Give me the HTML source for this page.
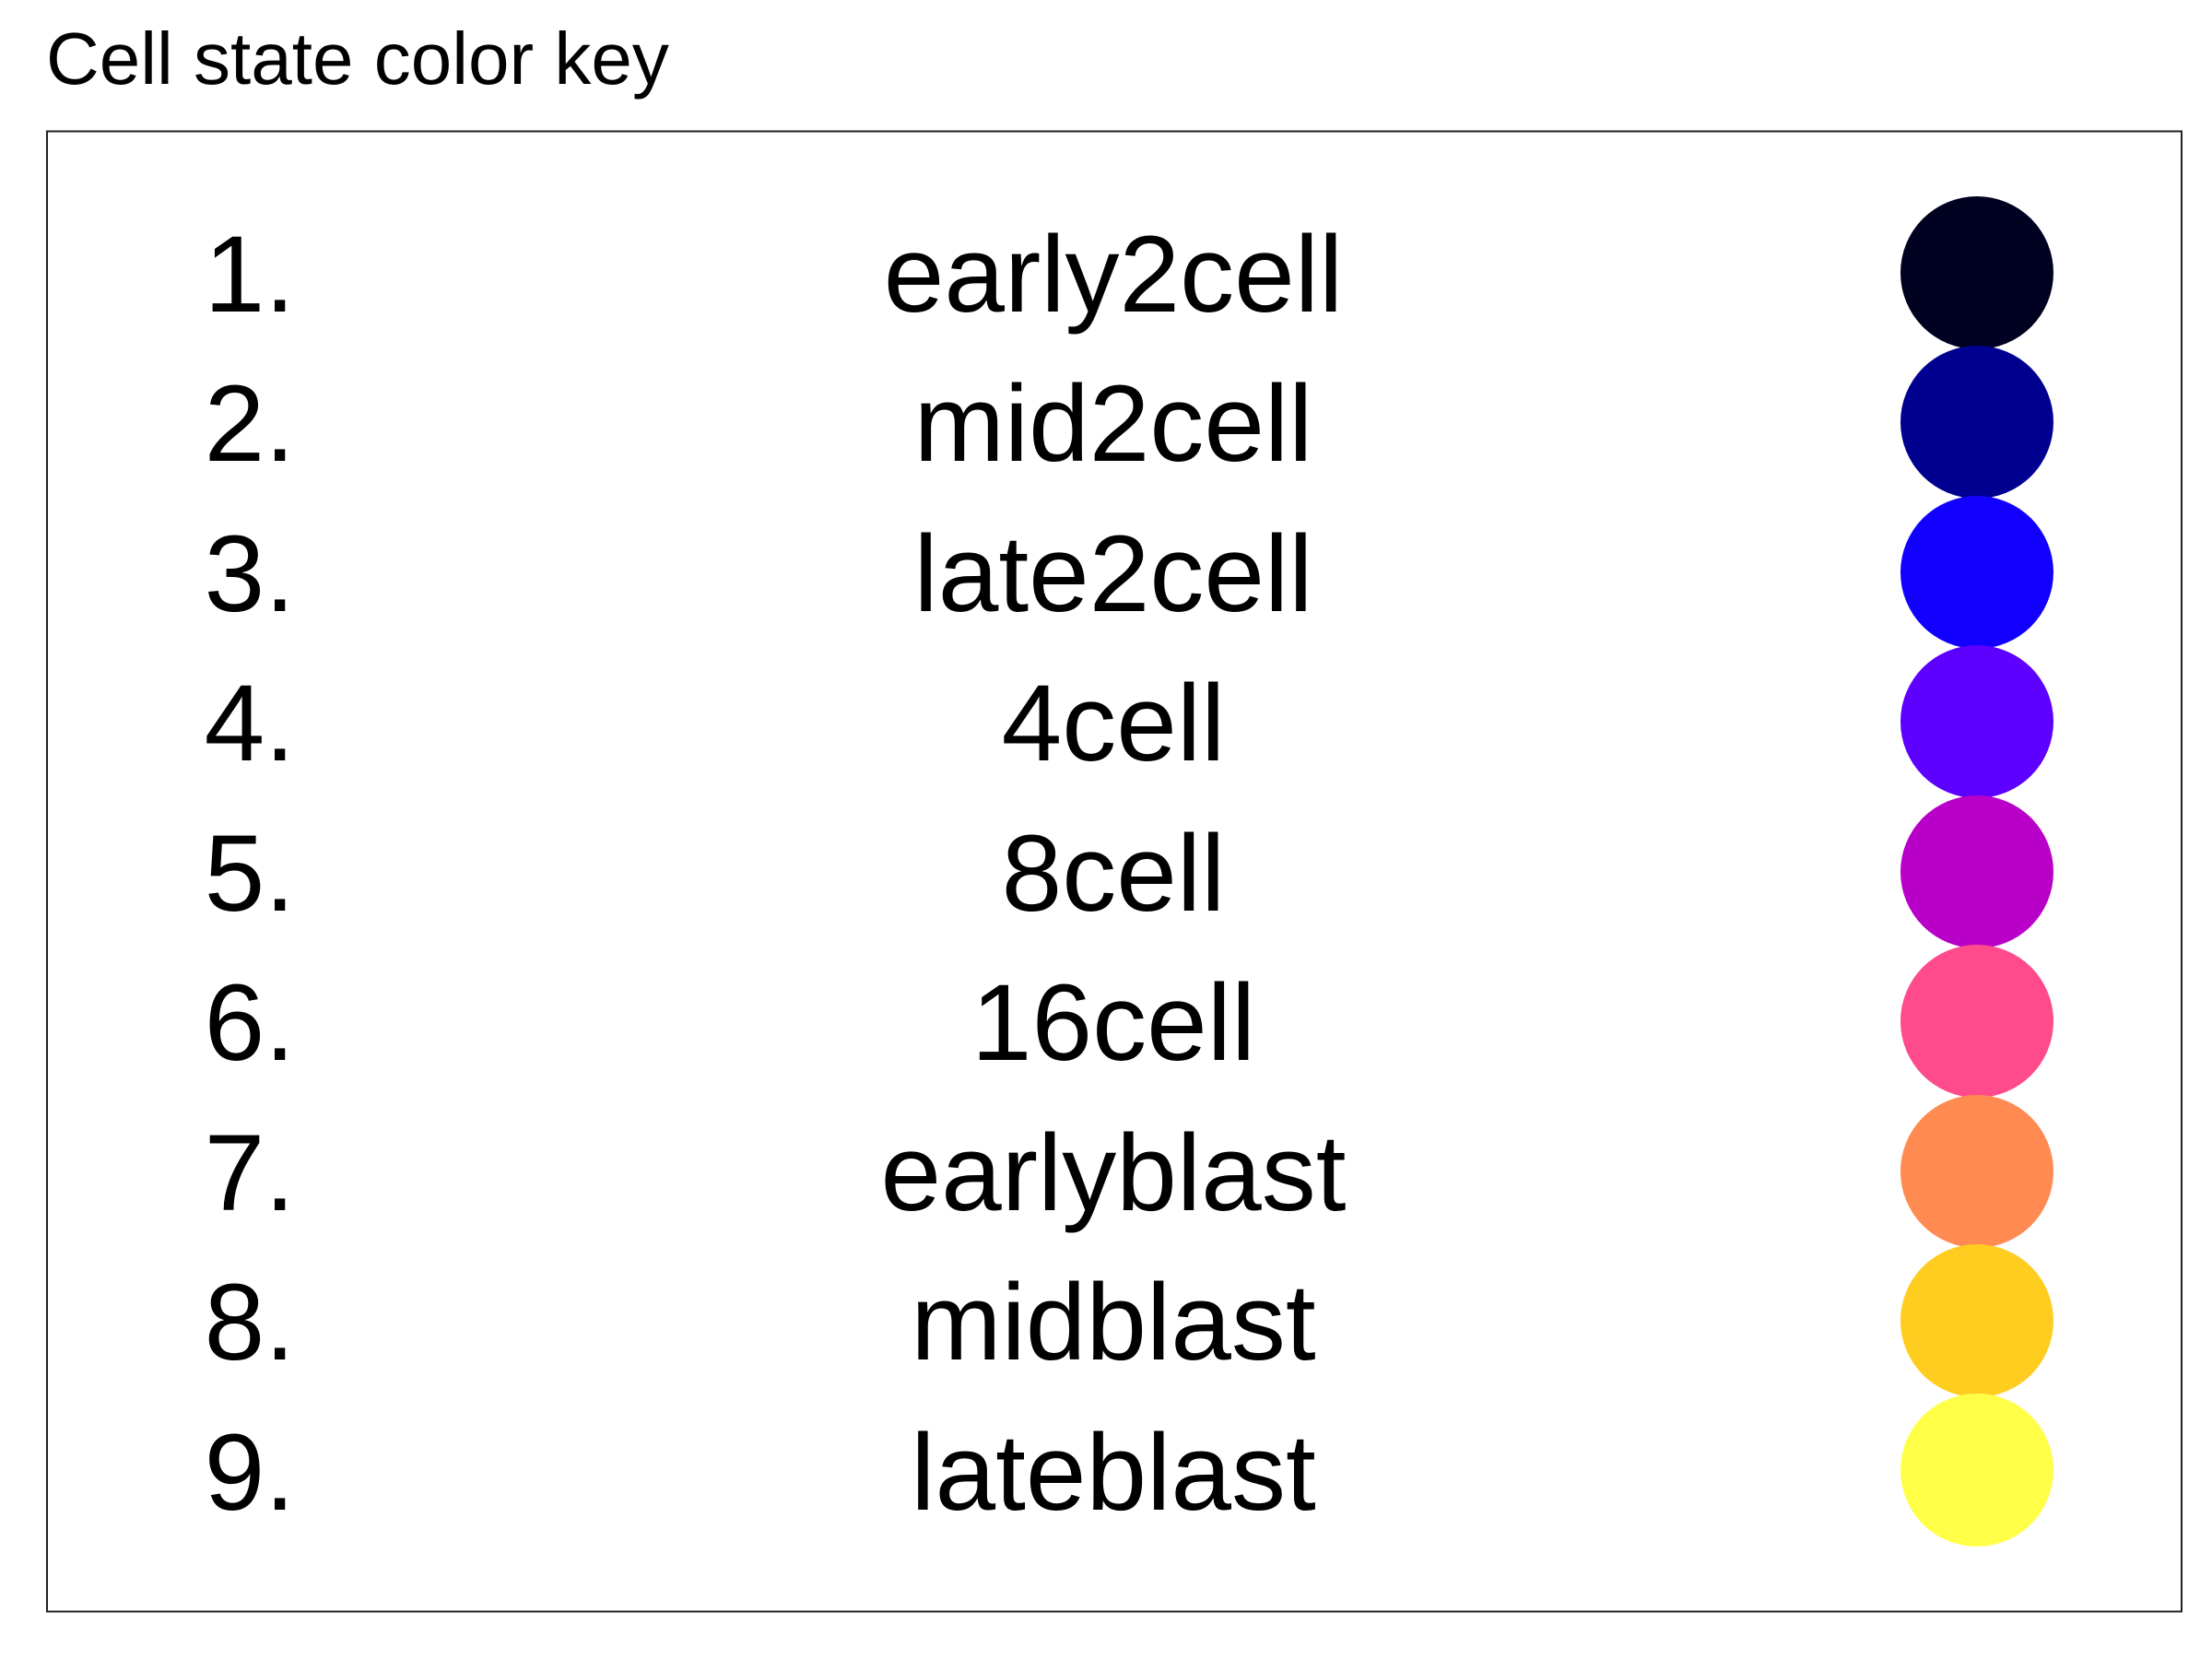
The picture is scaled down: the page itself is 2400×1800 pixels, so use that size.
<!DOCTYPE html>
<html><head><meta charset="utf-8"><style>html,body{margin:0;padding:0;background:#fff}svg{display:block}</style></head>
<body>
<svg width="2400" height="1800" viewBox="0 0 2400 1800" xmlns="http://www.w3.org/2000/svg" font-family="Liberation Sans, Arial, sans-serif">
<rect width="2400" height="1800" fill="#fff"/>
<text x="50" y="91" font-size="80" fill="#000">Cell state color key</text>
<rect x="51" y="142.5" width="2316" height="1606" fill="none" stroke="#222" stroke-width="2"/>
<g font-size="118" fill="#000">
<text x="320" y="338" text-anchor="end">1.</text>
<text x="320" y="500" text-anchor="end">2.</text>
<text x="320" y="663" text-anchor="end">3.</text>
<text x="320" y="825" text-anchor="end">4.</text>
<text x="320" y="988" text-anchor="end">5.</text>
<text x="320" y="1150" text-anchor="end">6.</text>
<text x="320" y="1313" text-anchor="end">7.</text>
<text x="320" y="1475" text-anchor="end">8.</text>
<text x="320" y="1638" text-anchor="end">9.</text>
<g text-anchor="middle">
<text x="1208" y="338">early2cell</text>
<text x="1208" y="500">mid2cell</text>
<text x="1208" y="663">late2cell</text>
<text x="1208" y="825">4cell</text>
<text x="1208" y="988">8cell</text>
<text x="1208" y="1150">16cell</text>
<text x="1208" y="1313">earlyblast</text>
<text x="1208" y="1475">midblast</text>
<text x="1208" y="1638">lateblast</text>
</g>
</g>
<circle cx="2145" cy="296" r="83" fill="#000020"/>
<circle cx="2145" cy="458" r="83" fill="#000090"/>
<circle cx="2145" cy="621" r="83" fill="#1200ff"/>
<circle cx="2145" cy="783" r="83" fill="#5d00ff"/>
<circle cx="2145" cy="946" r="83" fill="#b800c8"/>
<circle cx="2145" cy="1108" r="83" fill="#ff4a8c"/>
<circle cx="2145" cy="1271" r="83" fill="#ff8a52"/>
<circle cx="2145" cy="1433" r="83" fill="#ffcd20"/>
<circle cx="2145" cy="1595" r="83" fill="#ffff48"/>
</svg>
</body></html>
